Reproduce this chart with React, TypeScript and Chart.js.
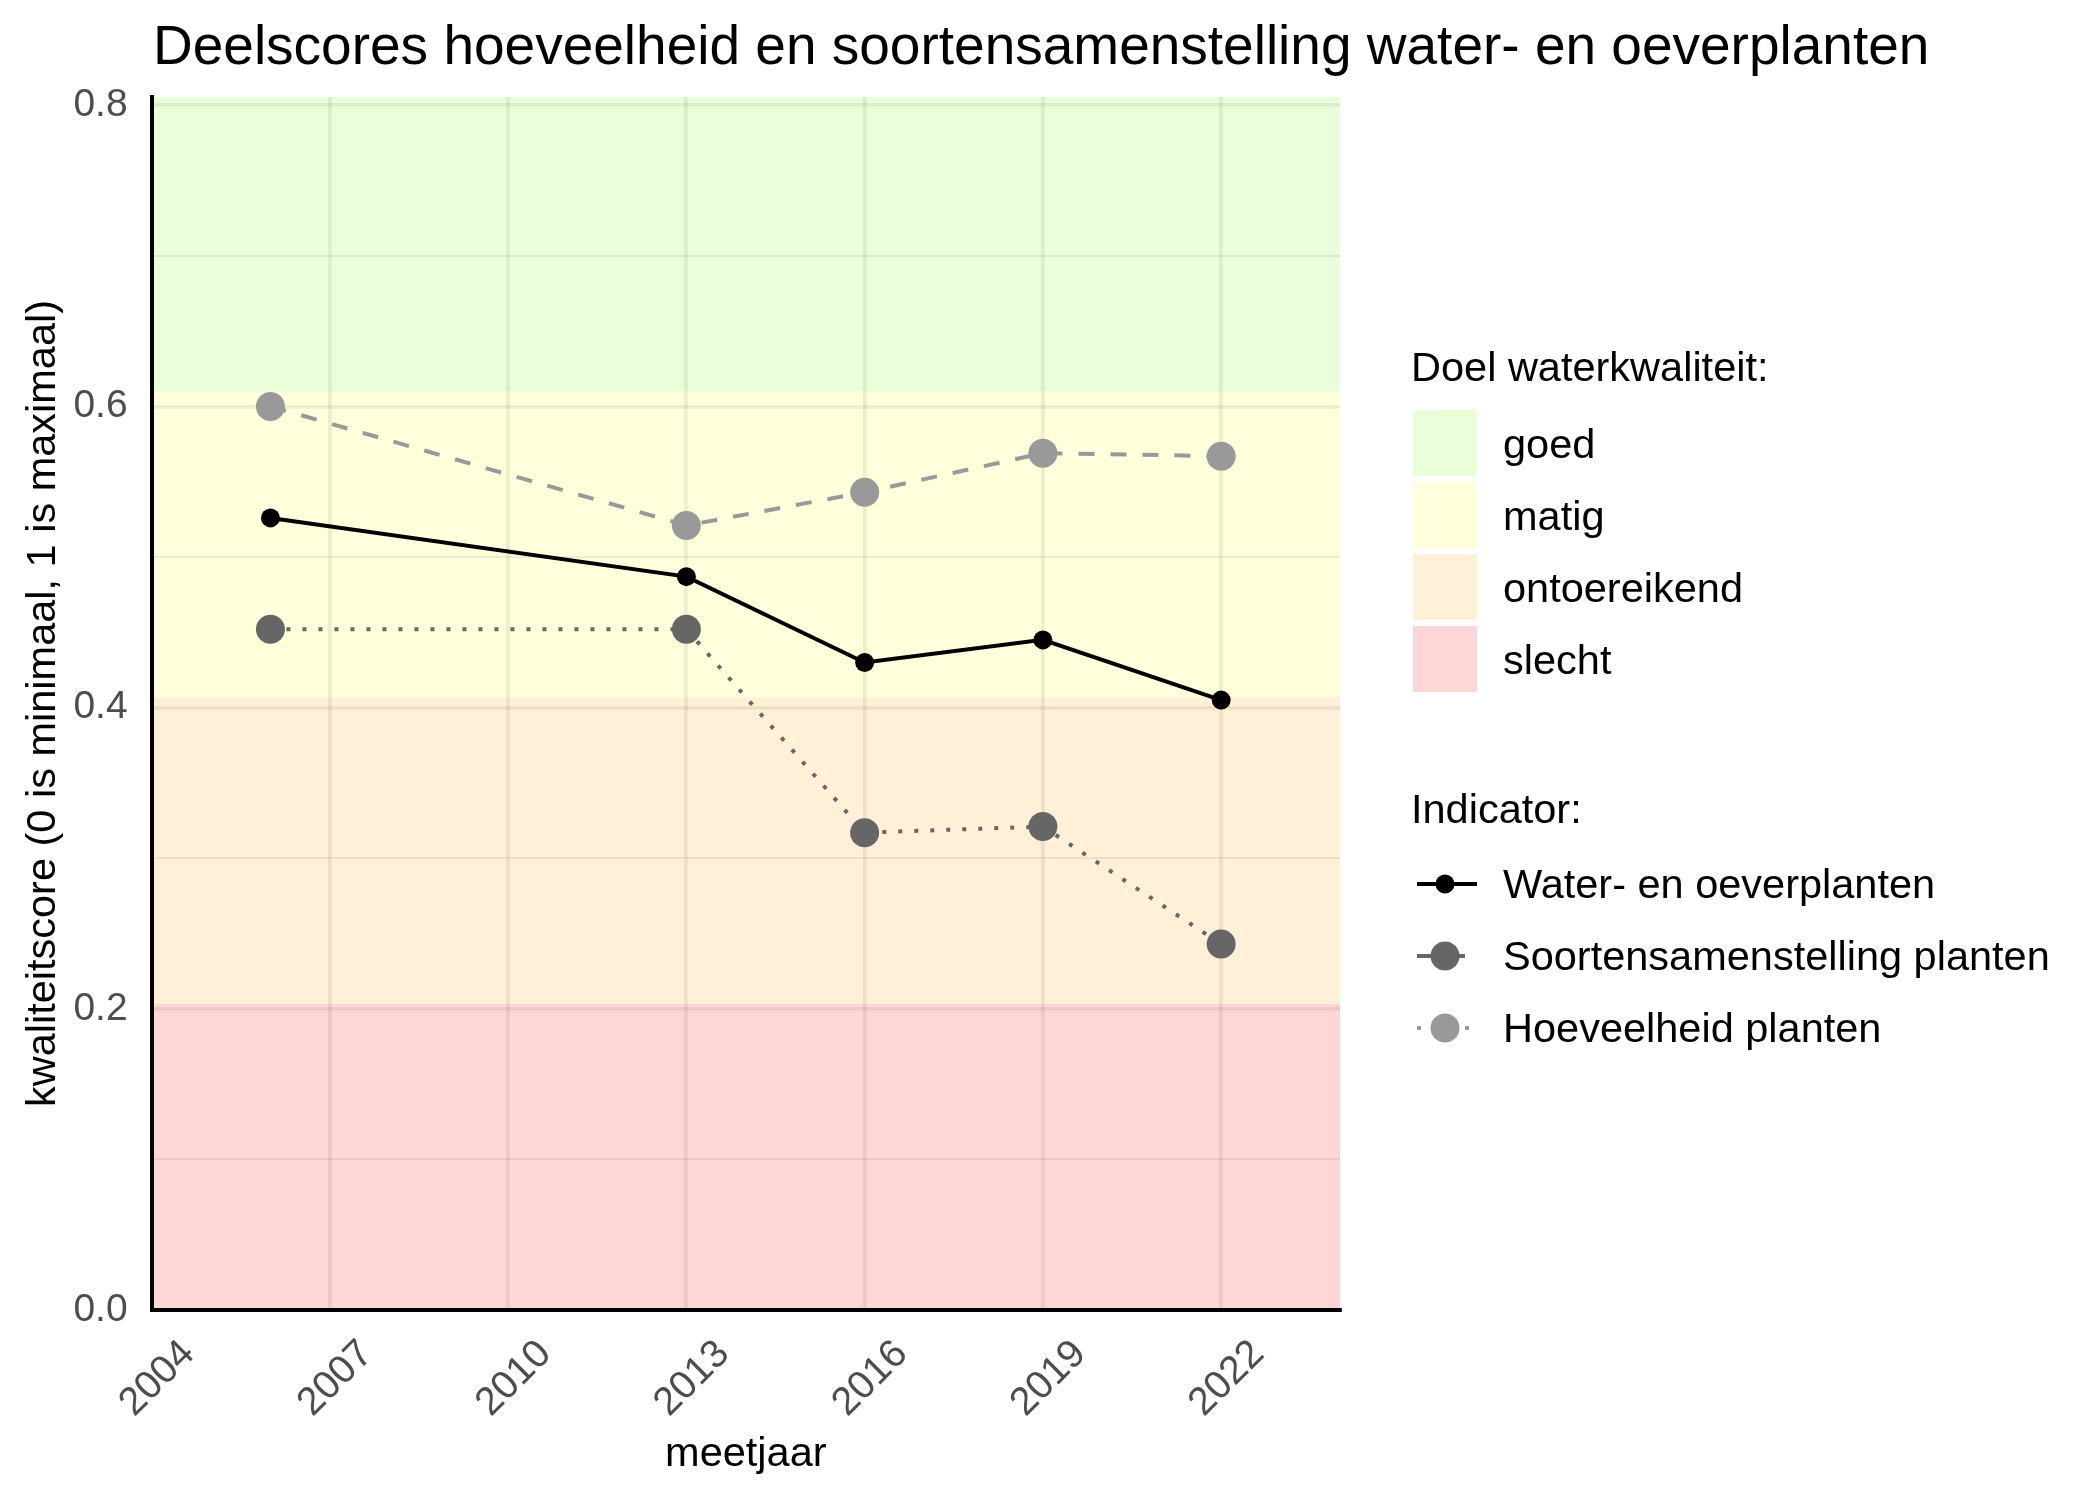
import React, { useEffect, useRef } from "react";
import { Chart, registerables } from "chart.js";

Chart.register(...registerables);

// ---------- data ----------
const titleText = "Deelscores hoeveelheid en soortensamenstelling water- en oeverplanten";
const xTitle = "meetjaar";
const yTitle = "kwaliteitscore (0 is minimaal, 1 is maximaal)";

const years = [2006, 2013, 2016, 2019, 2022];
const waterOever = [0.526, 0.487, 0.43, 0.445, 0.405];
const soortensamenstelling = [0.452, 0.452, 0.317, 0.321, 0.243];
const hoeveelheid = [0.6, 0.521, 0.543, 0.569, 0.567];

const xTicks = [2004, 2007, 2010, 2013, 2016, 2019, 2022];
const xMin = 2004;
const xMax = 2024;
const yMajorTicks = [0, 0.2, 0.4, 0.6, 0.8];
const yMinorTicks = [0.1, 0.3, 0.5, 0.7];
const yMin = 0;
const yMax = 0.8055;

const bandTitle = "Doel waterkwaliteit:";
const bandNames = ["goed", "matig", "ontoereikend", "slecht"];
const bandLower = [0.61, 0.4067, 0.2033, 0];
const bandUpper = [yMax, 0.61, 0.4067, 0.2033];
const bandColors = ["#E9FFD9", "#FFFFDB", "#FFF0D7", "#FFD6D7"];

const indicatorTitle = "Indicator:";
const indicatorNames = ["Water- en oeverplanten", "Soortensamenstelling planten", "Hoeveelheid planten"];
const indicatorColors = ["#000000", "#666666", "#999999"];
const indicatorRadius = [9.5, 14.5, 14.5];
const legendDash = [[], [16, 16], [4, 12]];

// ---------- styles ----------
const FONT = '"Liberation Sans", Arial, Helvetica, sans-serif';
const GRID = "rgba(0,0,0,0.065)";
const TICK_COLOR = "#4D4D4D";

const isMajor = (v: number) => yMajorTicks.some((t) => Math.abs(t - v) < 1e-9);

const bandsPlugin = {
  id: "bands",
  beforeDraw(chart: any) {
    const { ctx, chartArea: a, scales } = chart;
    const y = scales.y;
    ctx.save();
    bandNames.forEach((_, i) => {
      const top = Math.max(a.top, y.getPixelForValue(bandUpper[i]));
      const bot = Math.min(a.bottom, y.getPixelForValue(bandLower[i]));
      ctx.fillStyle = bandColors[i];
      ctx.fillRect(a.left, top, a.right - a.left, bot - top);
    });
    ctx.restore();
  },
};

const decorPlugin = {
  id: "decor",
  afterDraw(chart: any) {
    const ctx = chart.ctx as CanvasRenderingContext2D;
    ctx.save();
    // title
    ctx.fillStyle = "#000";
    ctx.textAlign = "left";
    ctx.textBaseline = "alphabetic";
    ctx.font = `55px ${FONT}`;
    ctx.fillText(titleText, 153, 64);

    // band legend
    ctx.font = `41.5px ${FONT}`;
    ctx.fillText(bandTitle, 1411, 381);
    bandNames.forEach((name, i) => {
      const top = 410 + i * 72;
      ctx.fillStyle = bandColors[i];
      ctx.fillRect(1413, top, 64, 66);
      ctx.fillStyle = "#000";
      ctx.textBaseline = "middle";
      ctx.fillText(name, 1503, top + 37);
    });

    // indicator legend
    ctx.textBaseline = "alphabetic";
    ctx.fillText(indicatorTitle, 1411, 823);
    indicatorNames.forEach((name, i) => {
      const cy = 884 + i * 72;
      ctx.strokeStyle = indicatorColors[i];
      ctx.lineWidth = 4;
      ctx.lineCap = "butt";
      ctx.setLineDash(legendDash[i]);
      ctx.beginPath();
      ctx.moveTo(1417, cy);
      ctx.lineTo(1477, cy);
      ctx.stroke();
      ctx.setLineDash([]);
      ctx.fillStyle = indicatorColors[i];
      ctx.beginPath();
      ctx.arc(1445, cy, indicatorRadius[i], 0, Math.PI * 2);
      ctx.fill();
      ctx.fillStyle = "#000";
      ctx.textBaseline = "middle";
      ctx.fillText(name, 1503, cy + 3);
    });
    ctx.restore();
  },
};

function makeDataset(label: string, values: number[], color: string, radius: number, dash: number[]) {
  return {
    label,
    data: years.map((x, i) => ({ x, y: values[i] })),
    borderColor: color,
    backgroundColor: color,
    borderWidth: 4,
    borderDash: dash,
    borderCapStyle: "butt",
    pointRadius: radius,
    pointHoverRadius: radius,
    pointBackgroundColor: color,
    pointBorderWidth: 0,
    tension: 0,
    fill: false,
  };
}

export default function App() {
  const ref = useRef<HTMLCanvasElement>(null);
  useEffect(() => {
    document.body.style.margin = "0";
    const config: any = {
      type: "line",
      data: {
        datasets: [
          makeDataset(indicatorNames[0], waterOever, indicatorColors[0], indicatorRadius[0], []),
          makeDataset(indicatorNames[1], soortensamenstelling, indicatorColors[1], indicatorRadius[1], [4, 12]),
          makeDataset(indicatorNames[2], hoeveelheid, indicatorColors[2], indicatorRadius[2], [16, 16]),
        ],
      },
      options: {
        responsive: false,
        animation: false,
        devicePixelRatio: 1,
        layout: { padding: { top: 97, right: 760, left: 0, bottom: 0 } },
        plugins: {
          legend: { display: false },
          tooltip: { enabled: false },
          title: { display: false },
        },
        scales: {
          x: {
            type: "linear",
            min: xMin,
            max: xMax,
            afterBuildTicks: (s: any) => {
              s.ticks = xTicks.map((v) => ({ value: v }));
            },
            afterFit: (s: any) => {
              s.height = 190;
            },
            ticks: {
              autoSkip: false,
              minRotation: 45,
              maxRotation: 45,
              padding: 21,
              labelOffset: 37,
              color: TICK_COLOR,
              font: { family: FONT, size: 39.5 },
              callback: (v: number) => String(v),
            },
            grid: { color: GRID, lineWidth: 3.8, drawTicks: false },
            border: { display: true, color: "#000", width: 4 },
            title: {
              display: true,
              text: xTitle,
              color: "#000",
              font: { family: FONT, size: 41.5 },
              padding: { top: 0, bottom: 21 },
            },
          },
          y: {
            type: "linear",
            min: yMin,
            max: yMax,
            afterBuildTicks: (s: any) => {
              s.ticks = [...yMajorTicks, ...yMinorTicks].sort((a, b) => a - b).map((v) => ({ value: v }));
            },
            afterFit: (s: any) => {
              s.width = 151.6;
            },
            ticks: {
              autoSkip: false,
              padding: 24,
              color: TICK_COLOR,
              font: { family: FONT, size: 39 },
              callback: (v: number) => (isMajor(v) ? v.toFixed(1) : ""),
            },
            grid: {
              color: GRID,
              lineWidth: (c: any) => (c.tick && isMajor(c.tick.value) ? 3.8 : 2),
              drawTicks: false,
            },
            border: { display: true, color: "#000", width: 4 },
            title: {
              display: true,
              text: yTitle,
              color: "#000",
              font: { family: FONT, size: 41.5 },
              padding: { top: 19, bottom: 0 },
            },
          },
        },
      },
      plugins: [bandsPlugin, decorPlugin],
    };
    const chart = new Chart(ref.current as HTMLCanvasElement, config);
    return () => chart.destroy();
  }, []);
  return (
    <div style={{ position: "absolute", left: 0, top: 0, width: 2100, height: 1500, background: "#fff" }}>
      <canvas ref={ref} width={2100} height={1500} style={{ display: "block", width: 2100, height: 1500 }} />
    </div>
  );
}
